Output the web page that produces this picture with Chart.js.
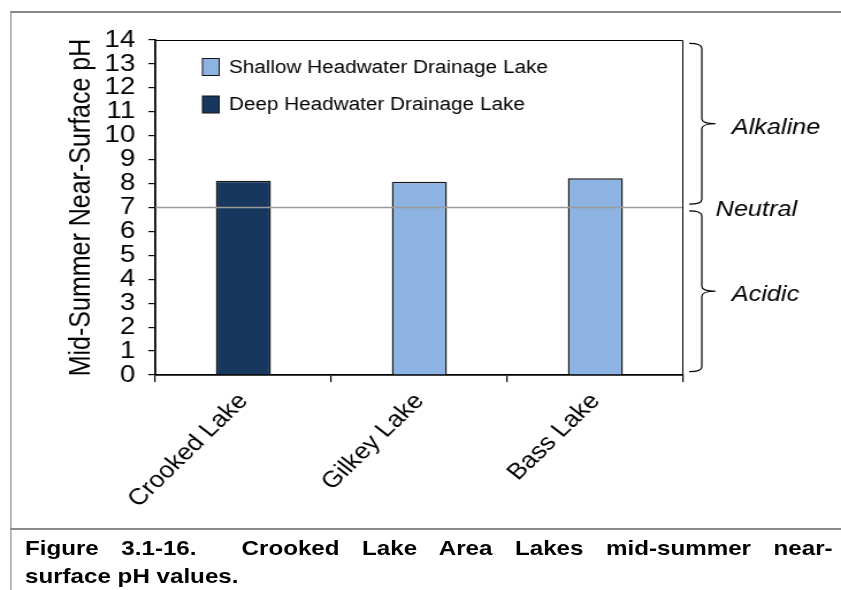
<!DOCTYPE html>
<html>
<head>
<meta charset="utf-8">
<script src="https://cdn.jsdelivr.net/npm/chart.js@4"></script>
<style>
    html, body { margin: 0; padding: 0; background: #fff; overflow: hidden; }
    /* the source figure is stretched sideways, so the whole page is drawn narrow and scaled in x */
    #page {
        position: absolute; left: 0; top: 0;
        width: 731px; height: 590px;
        transform: scaleX(1.1505);
        transform-origin: 0 0;
    }
    #chart { position: absolute; left: 0; top: 0; }
    .rule { position: absolute; background: #888; }
    .cap {
        position: absolute; left: 21.7px; width: 702px;
        font: bold 21px "Liberation Sans", Arial, sans-serif;
        line-height: 28px; color: #000; white-space: nowrap;
    }
    .l1 { top: 534px; text-align: justify; text-align-last: justify; white-space: normal; }
    .l2 { top: 562px; }
</style>
</head>
<body>
<div id="page">
    <canvas id="chart" width="731" height="528"></canvas>
    <div class="rule" style="left:8.7px; top:11px; width:1.8px; height:579px"></div>
    <div class="rule" style="left:8.7px; top:11px; width:723px; height:2px"></div>
    <div class="rule" style="left:8.7px; top:528px; width:723px; height:2px"></div>
    <div class="cap l1">Figure 3.1-16.&nbsp; Crooked Lake Area Lakes mid-summer near-</div>
    <div class="cap l2">surface pH values.</div>
</div>
<script>
const lakes = ['Crooked Lake', 'Gilkey Lake', 'Bass Lake'];
const lakeTypes = ['Deep Headwater Drainage Lake', 'Shallow Headwater Drainage Lake', 'Shallow Headwater Drainage Lake'];
const phValues = [8.12, 8.08, 8.22];

const legendOrder = ['Shallow Headwater Drainage Lake', 'Deep Headwater Drainage Lake'];
const typeColors = ['#8db3e2', '#17375e'];

const phMin = 0;
const phMax = 14;
const neutralPH = 7;

const zoneLabels = ['Alkaline', 'Neutral', 'Acidic'];
const zoneLow = [7, 7, 0];
const zoneHigh = [14, 7, 7];

Chart.defaults.font.family = "'Liberation Sans', Arial, sans-serif";
Chart.defaults.color = '#000';

const datasets = legendOrder.map((type, i) => ({
    label: type,
    data: phValues.map((v, j) => lakeTypes[j] === type ? v : null),
    backgroundColor: typeColors[i],
    borderColor: '#151515',
    borderWidth: 1.5,
    grouped: false,
    categoryPercentage: 1,
    barPercentage: 0.3125
}));

function drawBrace(ctx, x0, xv, tip, yTop, yBot) {
    const r = 5;
    const yMid = (yTop + yBot) / 2;
    ctx.beginPath();
    ctx.moveTo(x0, yTop);
    ctx.quadraticCurveTo(xv, yTop, xv, yTop + r);
    ctx.lineTo(xv, yMid - r);
    ctx.quadraticCurveTo(xv, yMid, tip, yMid);
    ctx.quadraticCurveTo(xv, yMid, xv, yMid + r);
    ctx.lineTo(xv, yBot - r);
    ctx.quadraticCurveTo(xv, yBot, x0, yBot);
    ctx.stroke();
}

const decor = {
    id: 'decor',
    afterDatasetsDraw(chart) {
        const {ctx, chartArea: a, scales: {y}} = chart;
        ctx.save();

        // neutral reference line
        const yn = y.getPixelForValue(neutralPH);
        ctx.strokeStyle = '#9a9a9a';
        ctx.lineWidth = 1.5;
        ctx.beginPath();
        ctx.moveTo(a.left, yn);
        ctx.lineTo(a.right, yn);
        ctx.stroke();

        // top and right edge of the plot box
        ctx.strokeStyle = '#000';
        ctx.lineWidth = 1;
        ctx.beginPath();
        ctx.moveTo(a.left, a.top + 0.5);
        ctx.lineTo(a.right - 0.5, a.top + 0.5);
        ctx.lineTo(a.right - 0.5, a.bottom + 7);
        ctx.stroke();

        // legend inside the plot
        ctx.font = "18px 'Liberation Sans', Arial, sans-serif";
        ctx.textBaseline = 'middle';
        ctx.textAlign = 'left';
        chart.data.datasets.forEach((ds, i) => {
            const cy = a.top + 27 + i * 37.5;
            ctx.fillStyle = ds.backgroundColor;
            ctx.fillRect(a.left + 41, cy - 8.5, 14.5, 17);
            ctx.strokeStyle = '#151515';
            ctx.lineWidth = 1;
            ctx.strokeRect(a.left + 41, cy - 8.5, 14.5, 17);
            ctx.fillStyle = '#000';
            ctx.fillText(ds.label, a.left + 64, cy + 1);
        });

        // braces and pH zone names
        const x0 = a.right + 5, xv = a.right + 16, tip = a.right + 28;
        ctx.strokeStyle = '#000';
        ctx.lineWidth = 1.2;
        ctx.font = "italic 22px 'Liberation Sans', Arial, sans-serif";
        zoneLabels.forEach((label, i) => {
            const yTop = y.getPixelForValue(zoneHigh[i]);
            const yBot = y.getPixelForValue(zoneLow[i]);
            const mid = (yTop + yBot) / 2;
            if (zoneHigh[i] > zoneLow[i]) {
                const inset = 0.14 * (y.getPixelForValue(0) - y.getPixelForValue(1));
                drawBrace(ctx, x0, xv, tip, yTop + inset, yBot - inset);
                ctx.fillStyle = '#000';
                ctx.fillText(label, tip + 14, mid + 4);
            } else {
                ctx.fillStyle = '#000';
                ctx.fillText(label, tip, mid + 2);
            }
        });
        ctx.restore();
    }
};

new Chart(document.getElementById('chart'), {
    type: 'bar',
    data: {labels: lakes, datasets: datasets},
    options: {
        responsive: false,
        animation: false,
        devicePixelRatio: 1,
        layout: {padding: {top: 40, right: 137, left: 0, bottom: 0}},
        plugins: {
            legend: {display: false},
            tooltip: {enabled: false}
        },
        scales: {
            x: {
                offset: true,
                afterFit: (scale) => { scale.height = 153; },
                grid: {offset: true, drawOnChartArea: false, drawTicks: true, tickLength: 7, color: '#000', lineWidth: 1.2},
                border: {color: '#000', width: 1.8},
                ticks: {
                    autoSkip: false,
                    minRotation: 48,
                    maxRotation: 48,
                    padding: 6,
                    font: {size: 23}
                }
            },
            y: {
                min: phMin,
                max: phMax,
                afterFit: (scale) => { scale.width = 135; },
                grid: {drawOnChartArea: false, drawTicks: true, tickLength: 6, color: '#000', lineWidth: 1.2},
                border: {color: '#000', width: 1.8},
                ticks: {stepSize: 1, autoSkip: false, padding: 11.5, font: {size: 24}},
                title: {
                    display: true,
                    text: 'Mid-Summer Near-Surface pH',
                    font: {size: 25},
                    padding: {top: 56, bottom: 0}
                }
            }
        }
    },
    plugins: [decor]
});
</script>
</body>
</html>
